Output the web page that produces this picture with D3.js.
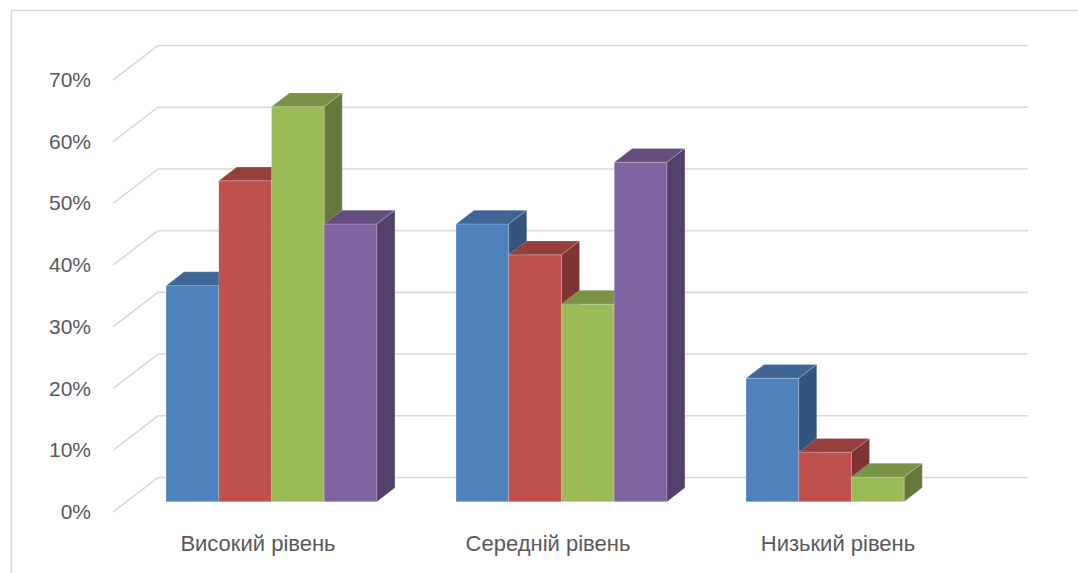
<!DOCTYPE html>
<html>
<head>
<meta charset="utf-8">
<script src="https://cdn.jsdelivr.net/npm/d3@7"></script>
<style>
  html, body { margin: 0; padding: 0; background: #fff; }
  text { font-family: 'Liberation Sans', Arial, sans-serif; fill: #595959; }
</style>
</head>
<body>
<div class="chart-container"></div>
<script>
const categories = ['Високий рівень', 'Середній рівень', 'Низький рівень']
const seriesNames = ['Ряд 1', 'Ряд 2', 'Ряд 3', 'Ряд 4']
const series1 = [35, 45, 20]
const series2 = [52, 40, 8]
const series3 = [64, 32, 4]
const series4 = [45, 55, null]
const tickValues = [0, 10, 20, 30, 40, 50, 60, 70]
const colors = ['#4F81BD', '#C0504D', '#9BBB59', '#8064A2']

const width = 1078
const height = 573
// floor front edge and depth vector of the 3d box
const depth = { x: 45, y: -34.5 }
const barFront = 0.3
const barDepth = 0.4

const allSeries = [series1, series2, series3, series4]

const svg = d3
  .select('.chart-container')
  .append('svg')
  .attr('width', width)
  .attr('height', height)

// chart frame
svg
  .append('rect')
  .attr('x', 11.5)
  .attr('y', 10.5)
  .attr('width', 1100)
  .attr('height', 600)
  .attr('fill', 'none')
  .attr('stroke', '#d9d9d9')
  .attr('stroke-width', 1.5)

const x0 = d3.scaleBand().domain(categories).range([113, 983])
const x1 = d3
  .scaleBand()
  .domain(seriesNames)
  .range([0, x0.bandwidth()])
  .paddingInner(0)
  .paddingOuter(0.75)
const y = d3.scaleLinear().domain([0, 70]).range([512, 80])

// gridlines: diagonal on the side wall, then along the back wall
svg
  .append('g')
  .selectAll('path')
  .data(tickValues)
  .enter()
  .append('path')
  .attr('d', (t) => {
    const p = d3.path()
    p.moveTo(x0.range()[0], y(t))
    p.lineTo(x0.range()[0] + depth.x, y(t) + depth.y)
    p.lineTo(x0.range()[1] + depth.x, y(t) + depth.y)
    return p.toString()
  })
  .attr('fill', 'none')
  .attr('stroke', '#d9d9d9')
  .attr('stroke-width', 1.6)

svg
  .append('g')
  .selectAll('text')
  .data(tickValues)
  .enter()
  .append('text')
  .attr('x', 91)
  .attr('y', (t) => y(t) + 1.5)
  .attr('text-anchor', 'end')
  .attr('dominant-baseline', 'middle')
  .attr('font-size', 21)
  .text((t) => t + '%')

svg
  .append('g')
  .selectAll('text')
  .data(categories)
  .enter()
  .append('text')
  .attr('x', (c) => x0(c) + x0.bandwidth() / 2)
  .attr('y', 551)
  .attr('text-anchor', 'middle')
  .attr('font-size', 22)
  .text((c) => c)

// bars, drawn left to right so each one hides the side of the previous
const bars = []
categories.forEach((c, ci) => {
  seriesNames.forEach((s, si) => {
    const v = allSeries[si][ci]
    if (v === null) return
    bars.push({ c, s, v, color: colors[si] })
  })
})

const ox = depth.x * barFront
const oy = depth.y * barFront
const dx = depth.x * barDepth
const dy = depth.y * barDepth

const barG = svg
  .selectAll('.bar')
  .data(bars)
  .enter()
  .append('g')
  .attr('class', 'bar')

const corner = (d) => {
  const xl = x0(d.c) + x1(d.s) + ox
  const xr = xl + x1.bandwidth()
  const yb = y(0) + oy
  const yt = y(d.v) + oy
  return { xl, xr, yb, yt }
}

barG
  .append('path')
  .attr('d', (d) => {
    const k = corner(d)
    return `M${k.xl},${k.yb}L${k.xl},${k.yt}L${k.xr},${k.yt}L${k.xr},${k.yb}Z`
  })
  .attr('fill', (d) => d.color)

barG
  .append('path')
  .attr('d', (d) => {
    const k = corner(d)
    return `M${k.xl},${k.yt}L${k.xl + dx},${k.yt + dy}L${k.xr + dx},${k.yt + dy}L${k.xr},${k.yt}Z`
  })
  .attr('fill', (d) => d3.color(d.color).darker(0.68))

barG
  .append('path')
  .attr('d', (d) => {
    const k = corner(d)
    return `M${k.xr},${k.yb}L${k.xr},${k.yt}L${k.xr + dx},${k.yt + dy}L${k.xr + dx},${k.yb + dy}Z`
  })
  .attr('fill', (d) => d3.color(d.color).darker(1.2))

barG
  .selectAll('path')
  .attr('stroke', 'rgba(255,255,255,0.35)')
  .attr('stroke-width', 0.6)
  .attr('stroke-linejoin', 'round')
</script>
</body>
</html>
